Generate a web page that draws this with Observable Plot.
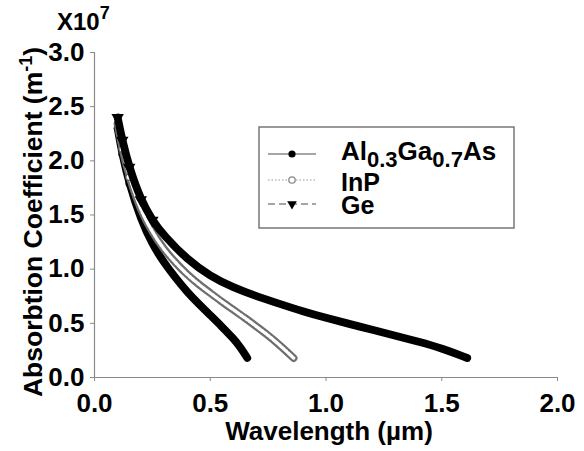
<!DOCTYPE html>
<html><head><meta charset="utf-8">
<script src="https://cdn.jsdelivr.net/npm/d3@7"></script>
<script src="https://cdn.jsdelivr.net/npm/@observablehq/plot@0.6"></script>
<style>
html,body{margin:0;padding:0;background:#fff;}
#chart svg{display:block;}
</style></head><body><div id="chart"></div>
<script>
// Wavelength (µm) and absorption coefficient (×10^7 m^-1)
const wavelengthAlGaAs = [0.10,0.12,0.15,0.20,0.25,0.30,0.35,0.40,0.45,0.50,0.55,0.60,0.63,0.66];
const alphaAlGaAs      = [2.30,2.06,1.79,1.46,1.23,1.06,0.92,0.79,0.68,0.575,0.47,0.36,0.28,0.18];
const wavelengthInP = [0.10,0.12,0.15,0.20,0.25,0.30,0.35,0.40,0.45,0.50,0.55,0.60,0.65,0.70,0.75,0.80,0.86];
const alphaInP      = [2.34,2.11,1.85,1.54,1.34,1.18,1.06,0.95,0.86,0.78,0.70,0.625,0.55,0.47,0.39,0.30,0.18];
const wavelengthGe = [0.10,0.12,0.15,0.20,0.25,0.30,0.40,0.50,0.60,0.70,0.80,0.90,1.00,1.10,1.20,1.30,1.40,1.50,1.61];
const alphaGe      = [2.40,2.19,1.94,1.64,1.45,1.31,1.09,0.935,0.83,0.75,0.68,0.61,0.55,0.495,0.44,0.385,0.33,0.27,0.18];
const xTicks = [0, 0.5, 1.0, 1.5, 2.0];
const yTicks = [0, 0.5, 1.0, 1.5, 2.0, 2.5, 3.0];

const rows = (xs, ys) => xs.map((x, i) => ({x, y: ys[i]}));
const dAl = rows(wavelengthAlGaAs, alphaAlGaAs);
const dInP = rows(wavelengthInP, alphaInP);
const dGe = rows(wavelengthGe, alphaGe);

const font = "'Liberation Sans', Arial, sans-serif";
const axisGray = "#8a8a8a";
const lw = 7.8;

const plot = Plot.plot({
  width: 584, height: 451,
  marginLeft: 94, marginRight: 27, marginTop: 52, marginBottom: 74,
  style: {fontFamily: font, fontSize: "26px", fontWeight: "bold", color: "#000", background: "#fff"},
  x: {domain: [0, 2]},
  y: {domain: [0, 3]},
  marks: [
    Plot.axisX({ticks: xTicks, tickFormat: d3.format(".1f"), tickSize: 4, tickPadding: 12, label: null}),
    Plot.axisY({ticks: yTicks, tickFormat: d3.format(".1f"), tickSize: 4, tickPadding: 6, label: null}),
    Plot.ruleX([0], {stroke: axisGray, strokeWidth: 1.2}),
    Plot.ruleY([0], {stroke: axisGray, strokeWidth: 1.2}),
    Plot.line(dAl, {x: "x", y: "y", stroke: "#000", strokeWidth: lw, curve: "basis", strokeLinecap: "round"}),
    Plot.dot(dAl.slice(0, 3), {x: "x", y: "y", r: 3.8, fill: "#000", stroke: "none"}),
    Plot.line(dInP, {x: "x", y: "y", stroke: "#6e6e6e", strokeWidth: lw, curve: "basis", strokeLinecap: "round"}),
    Plot.line(dInP, {x: "x", y: "y", stroke: "#fff", strokeWidth: 3.4, curve: "basis", strokeLinecap: "round", strokeDasharray: "2,1.8"}),
    Plot.dot(dInP.slice(0, 3), {x: "x", y: "y", r: 3.3, fill: "#fff", stroke: "#666", strokeWidth: 1.3}),
    Plot.line(dGe, {x: "x", y: "y", stroke: "#000", strokeWidth: lw, curve: "basis", strokeLinecap: "round"}),
    Plot.dot(dGe.slice(0, 5), {x: "x", y: "y", symbol: "triangle", rotate: 180, r: 4.6, fill: "#000", stroke: "none"})
  ]
});
document.getElementById("chart").appendChild(plot);

const svg = d3.select(plot);
svg.selectAll("[aria-label='x-axis tick'] path, [aria-label='y-axis tick'] path").attr("stroke", axisGray);
svg.selectAll("[aria-label='x-axis tick label'] text, [aria-label='y-axis tick label'] text").attr("fill", "#000");

// Y-axis title with superscript
const yt = svg.append("text")
  .attr("transform", "translate(42,222) rotate(-90)")
  .attr("text-anchor", "middle")
  .attr("font-family", font).attr("font-size", 26.5).attr("font-weight", "bold").attr("fill", "#000");
yt.append("tspan").text("Absorbtion Coefficient (m");
yt.append("tspan").attr("dy", -10).attr("font-size", 18).text("-1");
yt.append("tspan").attr("dy", 10).text(")");

// X-axis title
svg.append("text").attr("x", 329).attr("y", 440).attr("text-anchor", "middle")
  .attr("font-family", font).attr("font-size", 26).attr("font-weight", "bold").attr("fill", "#000")
  .text("Wavelength (µm)");

// Scale multiplier
const mult = svg.append("text").attr("x", 57).attr("y", 30).attr("text-anchor", "start")
  .attr("font-family", font).attr("font-size", 24).attr("font-weight", "bold").attr("fill", "#000");
mult.append("tspan").text("X10");
mult.append("tspan").attr("dy", -11).attr("font-size", 18).text("7");

// Legend
const lg = svg.append("g").attr("font-family", font).attr("font-weight", "bold").attr("fill", "#000").attr("text-anchor", "start");
lg.append("rect").attr("x", 259).attr("y", 127).attr("width", 255).attr("height", 101)
  .attr("fill", "#fff").attr("stroke", "#777").attr("stroke-width", 1.5);
const legendRows = [
  {y: 154, dash: null, stroke: "#888"},
  {y: 180, dash: "1.5,2", stroke: "#bbb"},
  {y: 204, dash: "7,4", stroke: "#888"}
];
legendRows.forEach(r => {
  lg.append("line").attr("x1", 268).attr("x2", 316).attr("y1", r.y).attr("y2", r.y)
    .attr("stroke", r.stroke).attr("stroke-width", 1.6).attr("stroke-dasharray", r.dash);
});
lg.append("circle").attr("cx", 292).attr("cy", 154).attr("r", 3.6).attr("fill", "#000");
lg.append("circle").attr("cx", 292).attr("cy", 180).attr("r", 3.2).attr("fill", "#fff").attr("stroke", "#888").attr("stroke-width", 1.3);
lg.append("path").attr("d", d3.symbol(d3.symbolTriangle, 40)()).attr("transform", "translate(292,204) rotate(180)").attr("fill", "#000");

const t1 = lg.append("text").attr("x", 341).attr("y", 160).attr("font-size", 26);
t1.append("tspan").text("Al");
t1.append("tspan").attr("dy", 7).attr("font-size", 22).text("0.3");
t1.append("tspan").attr("dy", -7).text("Ga");
t1.append("tspan").attr("dy", 7).attr("font-size", 22).text("0.7");
t1.append("tspan").attr("dy", -7).text("As");
lg.append("text").attr("x", 341).attr("y", 191).attr("font-size", 25).text("InP");
lg.append("text").attr("x", 341).attr("y", 214).attr("font-size", 25).text("Ge");
</script></body></html>
